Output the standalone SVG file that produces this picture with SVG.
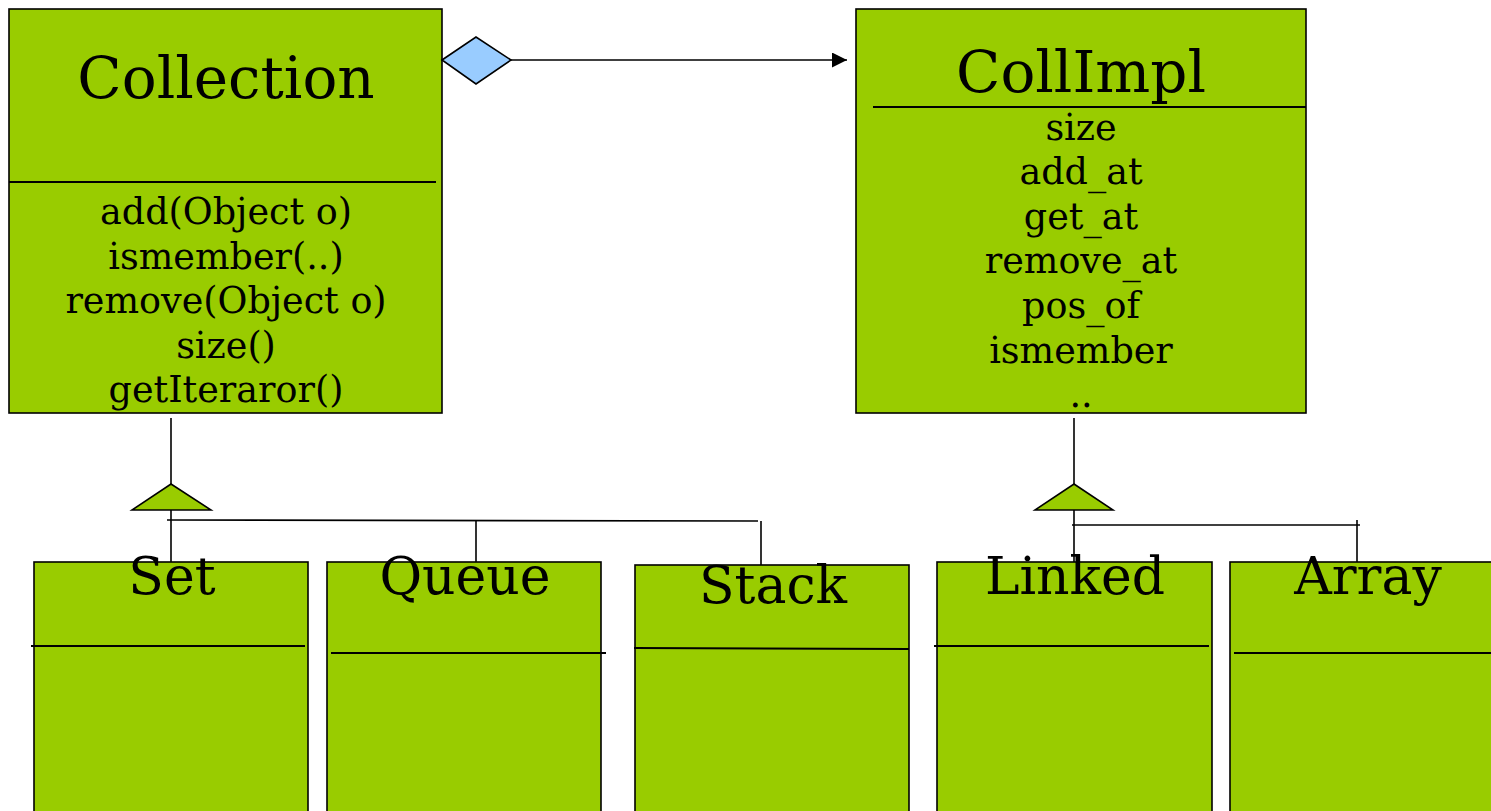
<svg xmlns="http://www.w3.org/2000/svg" width="1491" height="811" viewBox="0 0 1491 811">
  <style>
    .box { fill: #99cc00; stroke: #000; stroke-width: 1.6; }
    .sep { stroke: #000; stroke-width: 2; fill: none; }
    .ln { stroke: #000; stroke-width: 1.6; fill: none; }
    .tri { fill: #99cc00; stroke: #000; stroke-width: 1.6; stroke-linejoin: miter; }
    text { font-family: "DejaVu Serif", "Liberation Serif", serif; fill: #000; text-anchor: middle; }
    .title { font-size: 58px; }
    .sub { font-size: 52px; }
    .mem { font-size: 36.5px; }
  </style>
  <defs>
    <marker id="arrow" viewBox="0 0 15 15" refX="15" refY="7.5" markerWidth="15" markerHeight="15" markerUnits="userSpaceOnUse" orient="auto">
      <path d="M0,0 L15,7.5 L0,15 Z" fill="#000"/>
    </marker>
  </defs>

  <rect width="1491" height="811" fill="#fff"/>

  <g id="collection">
    <rect class="box" x="9" y="9" width="433" height="404"/>
    <line class="sep" x1="9" y1="182" x2="436" y2="182"/>
    <text class="title" x="226" y="98">Collection</text>
    <text class="mem" x="226" y="224">add(Object o)</text>
    <text class="mem" x="226" y="269">ismember(..)</text>
    <text class="mem" x="226" y="313">remove(Object o)</text>
    <text class="mem" x="226" y="358">size()</text>
    <text class="mem" x="226" y="402">getIteraror()</text>
  </g>

  <g id="collimpl">
    <rect class="box" x="856" y="9" width="450" height="404"/>
    <line class="sep" x1="873" y1="107" x2="1306" y2="107"/>
    <text class="title" x="1081" y="92">CollImpl</text>
    <text class="mem" x="1081" y="140">size</text>
    <text class="mem" x="1081" y="184">add_at</text>
    <text class="mem" x="1081" y="229">get_at</text>
    <text class="mem" x="1081" y="273">remove_at</text>
    <text class="mem" x="1081" y="318">pos_of</text>
    <text class="mem" x="1081" y="363">ismember</text>
    <text class="mem" x="1081" y="407">..</text>
  </g>

  <g id="set">
    <rect class="box" x="34" y="562" width="274" height="260"/>
    <line class="sep" x1="31" y1="646" x2="305" y2="646"/>
    <text class="sub" x="172" y="594">Set</text>
  </g>

  <g id="queue">
    <rect class="box" x="327" y="562" width="274" height="260"/>
    <line class="sep" x1="331" y1="653" x2="606" y2="653"/>
    <text class="sub" x="465" y="594">Queue</text>
  </g>

  <g id="stack">
    <rect class="box" x="635" y="565" width="274" height="260"/>
    <line class="sep" x1="634" y1="648" x2="909" y2="649"/>
    <text class="sub" x="773" y="603">Stack</text>
  </g>

  <g id="linked">
    <rect class="box" x="937" y="562" width="275" height="260"/>
    <line class="sep" x1="934" y1="646" x2="1209" y2="646"/>
    <text class="sub" x="1075" y="594">Linked</text>
  </g>

  <g id="array">
    <rect class="box" x="1230" y="562" width="280" height="260"/>
    <line class="sep" x1="1234" y1="653" x2="1491" y2="653"/>
    <text class="sub" x="1368" y="594">Array</text>
  </g>

  <g id="connectors">
    <!-- aggregation: Collection holds a CollImpl -->
    <line class="ln" x1="511" y1="60" x2="847" y2="60" marker-end="url(#arrow)"/>
    <polygon points="442,60 476,37 511,60 476,84" fill="#99ccff" stroke="#000" stroke-width="1.6"/>

    <!-- generalization: Set / Queue / Stack -> Collection -->
    <line class="ln" x1="171" y1="418" x2="171" y2="484"/>
    <polygon class="tri" points="171,484 211,510 132,510"/>
    <line class="ln" x1="171" y1="510" x2="171" y2="562"/>
    <line class="ln" x1="167" y1="520" x2="758" y2="521"/>
    <line class="ln" x1="476" y1="520" x2="476" y2="562"/>
    <line class="ln" x1="761" y1="521" x2="761" y2="565"/>

    <!-- generalization: Linked / Array -> CollImpl -->
    <line class="ln" x1="1074" y1="418" x2="1074" y2="484"/>
    <polygon class="tri" points="1074,484 1113,510 1035,510"/>
    <line class="ln" x1="1074" y1="510" x2="1074" y2="562"/>
    <line class="ln" x1="1072" y1="525" x2="1360" y2="525"/>
    <line class="ln" x1="1357" y1="520" x2="1357" y2="562"/>
  </g>
</svg>
